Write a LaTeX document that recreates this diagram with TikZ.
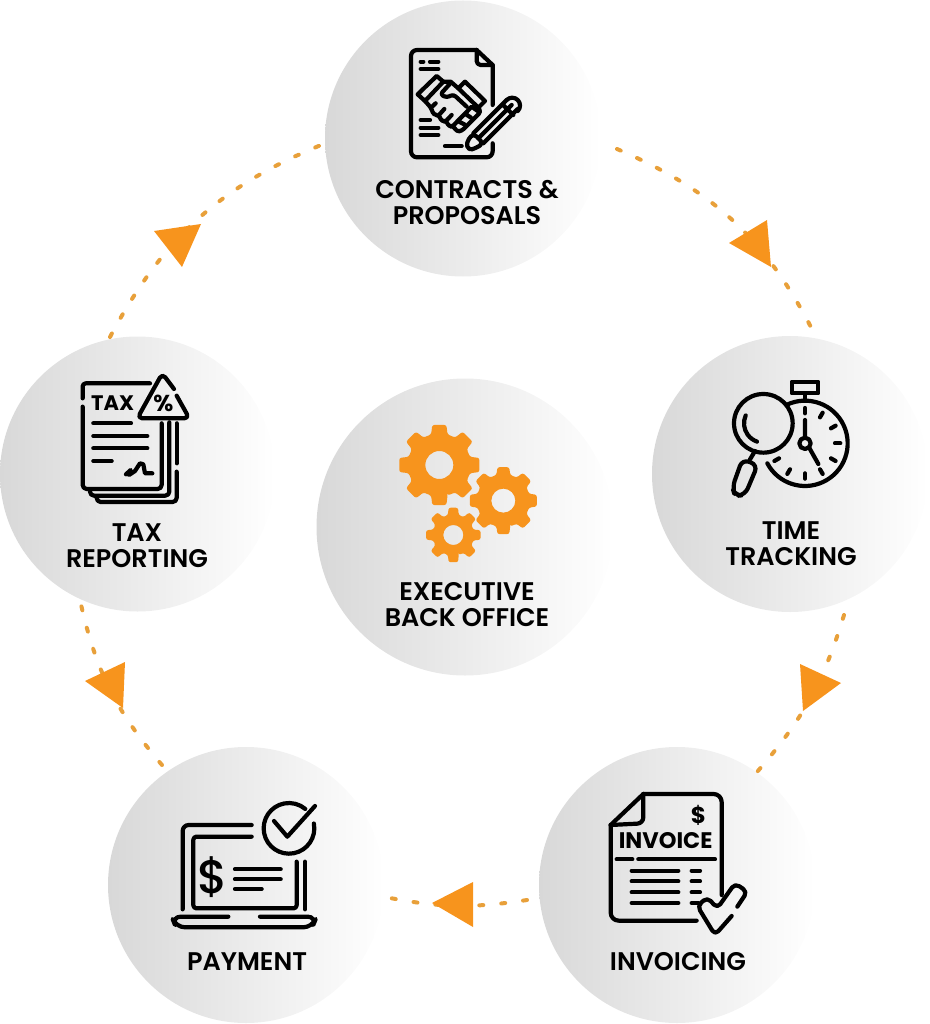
\documentclass[tikz,border=0pt]{standalone}
\usepackage{fontspec}
\setmainfont{Poppins SemiBold}
\newfontfamily\heavyfont{Poppins}[UprightFont=* Bold]
\newfontfamily\midfont{Poppins Medium}
\usetikzlibrary{calc}
\definecolor{brand}{HTML}{F7941D}
\definecolor{dashc}{HTML}{E8A03A}
\definecolor{cgray}{HTML}{D8D8D8}
\tikzset{
  disc/.style={circle,inner sep=0pt,left color=cgray,right color=white,draw=none},
  lab/.style={align=center,inner sep=0pt,font=\fontsize{25.5}{26}\selectfont,text=black},
  flow/.style={draw=dashc,line width=4pt,line cap=round,dash pattern=on 4pt off 18pt},
  head/.style={fill=brand},
  ico/.style={draw=black,line width=4.2pt,line cap=round,line join=round},
  zoomed/.style={x=0.3333pt,y=-0.3333pt},
}
\newcommand{\gearshape}[6]{% cx cy outer root hole start
  \fill[brand,even odd rule,rounded corners=2.2pt]
    ($(#1,#2)+(#6-15:#4)$)
    \foreach \k in {0,...,7}{
      -- ($(#1,#2)+(#6+\k*45-15:#4)$)
      -- ($(#1,#2)+(#6+\k*45-10:#3)$)
      -- ($(#1,#2)+(#6+\k*45+10:#3)$)
      -- ($(#1,#2)+(#6+\k*45+15:#4)$)
    } -- cycle
    (#1,#2) circle[radius=#5];
}
\begin{document}
\begin{tikzpicture}[x=1pt,y=-1pt]
\useasboundingbox (0,0) rectangle (929,1024);
% discs
\node[disc,minimum size=276pt] (contracts) at (463,138.5) {};
\node[disc,minimum size=276pt] (time) at (790,474) {};
\node[disc,minimum size=275pt] (tax) at (137.5,474) {};
\node[disc,minimum size=297pt] (office) at (465,527) {};
\node[disc,minimum size=276pt] (payment) at (246,885) {};
\node[disc,minimum size=276pt] (invoice) at (677,885) {};
% connector ends
\coordinate (a1) at (617,149); \coordinate (a2) at (815,335);
\coordinate (b1) at (844,615); \coordinate (b2) at (757,772);
\coordinate (c1) at (527,900); \coordinate (c2) at (385,897);
\coordinate (d1) at (162,765); \coordinate (d2) at (80,600);
\coordinate (e1) at (110,337); \coordinate (e2) at (326,143);
\draw[flow] (a1) to[bend left=20] (a2);
\draw[flow] (b1) to[bend left=12] (b2);
\draw[flow] (c1) to[bend left=10] (c2);
\draw[flow] (d1) to[bend left=14] (d2);
\draw[flow] (e1) to[bend left=20] (e2);
% arrow heads
\fill[head] (729,243) -- (767,220) -- (771,267) -- cycle;
\fill[head] (800,664) -- (841,683) -- (803,711) -- cycle;
\fill[head] (473,882) -- (473,927) -- (432,903) -- cycle;
\fill[head] (125,662) -- (85,681) -- (123,708) -- cycle;
\fill[head] (154,231) -- (201,224) -- (182,267) -- cycle;
% labels
\node[lab] (l1) at (467,202) {CONTRACTS \&\\PROPOSALS};
\node[lab] (l2) at (791,544) {TIME\\TRACKING};
\node[lab] (l3) at (137,546) {TAX\\REPORTING};
\node[lab] (l4) at (467,605) {EXECUTIVE\\BACK OFFICE};
\node[lab] (l5) at (678,962) {INVOICING};
\node[lab] (l6) at (247,962) {PAYMENT};
% contracts icon
\begin{scope}[shift={(380,30)},zoomed]
 \draw[ico,rounded corners=6pt] (290,60) -- (93,60) -- (93,382) -- (338,382) -- (338,340);
 \draw[ico] (338,225) -- (338,105) -- (290,60);
 \draw[ico,rounded corners=4pt] (290,60) -- (290,105) -- (338,105);
 \draw[ico] (122,95)--(130,95) (150,95)--(175,95) (122,117)--(175,117);
 \draw[ico] (122,270)--(150,270) (122,293)--(175,293) (122,315)--(175,315) (195,348)--(245,348);
\end{scope}
\begin{scope}[shift={(415,65)},zoomed]
 % handshake
 \draw[ico] (8,88)--(65,33)--(85,50)--(30,108)--cycle;
 \draw[ico] (150,50)--(210,108)--(190,128)--(130,70)--cycle;
 \draw[ico] (85,50)--(107,50)--(130,70);
 \draw[ico,rounded corners=3pt] (107,54)--(76,88)--(95,98)--(115,88)--(155,125);
 \draw[ico,rounded corners=3pt] (30,108)--(48,128)--(56,150)--(72,150)--(80,170)--(94,167)--(102,186)--(115,182)--(125,200)--(140,198)--(198,140)--(190,128);
 \draw[ico] (48,128)--(62,115) (72,150)--(88,132) (94,167)--(110,150);
 \draw[ico] (115,182)--(128,168)--(148,178) (128,168)--(150,146)--(168,158) (150,146)--(170,125)--(188,138);
 % pencil
 \draw[ico,rounded corners=4pt] (175,205)--(154,232)--(160,256)--(182,250)--(205,235)--cycle;
 \draw[ico] (175,205)--(275,105) (205,235)--(308,132) (190,220)--(290,120) (262,118)--(295,150);
 \draw[ico] (275,105) arc[start angle=225,end angle=405,radius=23.5];
\end{scope}
% time icon
\begin{scope}[shift={(710,370)},zoomed]
 \draw[ico] (245,35) rectangle (325,70);
 \draw[ico] (285,70) -- (285,90);
 \draw[ico] ([shift={(-115:128)}]285,220) arc[start angle=-115,end angle=152,radius=128];
 \foreach \a in {-90,-60,-30,0,30,60,90,120,150}
   \draw[ico] ([shift={(\a:90)}]285,220) -- ([shift={(\a:106)}]285,220);
 \draw[ico] (285,220) circle[radius=17];
 \draw[ico] (285,203) -- (285,150) (297,232) -- (325,282);
 \draw[ico] (160,160) circle[radius=88];
 \draw[ico] ([shift={(204:58)}]160,160) arc[start angle=204,end angle=109,radius=58];
 \draw[ico] (120,268) -- (135,243);
 \draw[ico,rounded corners=7pt] (97,268) -- (67,352) -- (75,378) -- (105,375) -- (143,285) -- cycle;
\end{scope}
% tax icon
\begin{scope}[shift={(60,365)},zoomed]
 \draw[ico,rounded corners=3pt] (68,100) -- (68,55) -- (270,55);
 \draw[ico,rounded corners=4pt] (68,125) -- (68,372) -- (305,372) -- (305,175);
 \draw[ico,rounded corners=4pt] (90,375) -- (90,392) -- (328,392) -- (328,172);
 \draw[ico,rounded corners=4pt] (110,395) -- (110,411) -- (350,411) -- (350,320);
 \draw[ico] (350,295) -- (350,175);
 \draw[ico] (100,175)--(213,175) (100,213)--(262,213) (100,250)--(262,250) (100,288)--(155,288);
 \draw[ico] (198,328)--(212,315)--(207,330)--(225,318)--(240,295)--(250,298)--(255,325)--(277,325);
 \draw[ico,rounded corners=5pt] (342,72)--(307,25)--(232,160)--(388,160)--(350,92);
 \node[inner sep=0pt,font=\fontsize{21}{21}\selectfont\heavyfont] (taxword) at (158,113) {TAX};
 \node[inner sep=0pt,font=\fontsize{23}{23}\selectfont\heavyfont] (pct) at (310,115) {\%};
\end{scope}
% invoice icon
\begin{scope}[shift={(590,780)},zoomed]
 \draw[ico,rounded corners=8pt] (160,42) -- (395,42) -- (395,345);
 \draw[ico,rounded corners=8pt] (320,422) -- (62,422) -- (62,135);
 \draw[ico] (62,135) -- (160,42);
 \draw[ico,rounded corners=6pt] (160,42) -- (160,130) -- (62,135);
 \node[inner sep=0pt,font=\fontsize{23}{23}\selectfont\heavyfont] (dollar) at (325,105) {\$};
 \node[inner sep=0pt,font=\fontsize{22.5}{23}\selectfont\heavyfont] (invword) at (227,183) {INVOICE};
 \draw[ico] (80,238)--(127,238) (145,238)--(375,238);
 \draw[ico] (125,272)--(265,272) (125,304)--(265,304) (125,337)--(265,337) (125,369)--(265,369);
 \draw[ico] (305,272)--(330,272) (305,304)--(330,304) (305,337)--(330,337) (305,369)--(325,369);
 \draw[ico,rounded corners=5pt] (442,380)--(472,335)--(435,310)--(382,385)--(352,352)--(322,378)--(375,465)--(425,408);
\end{scope}
% payment icon
\begin{scope}[shift={(160,790)},zoomed]
 \draw[ico,rounded corners=6pt] (68,358) -- (68,105) -- (275,105);
 \draw[ico,rounded corners=3pt] (275,140) -- (100,140) -- (100,355) -- (410,355) -- (410,215);
 \draw[ico] (435,215) -- (435,358);
 \draw[ico] ([shift={(-11:76)}]387,115) arc[start angle=-11,end angle=310,radius=76];
 \draw[ico] (342,93)--(382,140)--(465,48);
 \node[inner sep=0pt,font=\fontsize{47}{47}\selectfont\midfont] (bigdollar) at (158,260) {\$};
 \draw[ico] (225,238)--(362,238) (225,268)--(362,268) (225,297)--(305,297);
 \draw[ico,rounded corners=9pt] (205,380) -- (35,380) -- (48,412) -- (457,412) -- (470,380) -- (300,380);
\end{scope}
% gears
\begin{scope}[shift={(385,415)},zoomed]
 \gearshape{163}{150}{122}{95}{42}{90}
 \gearshape{355}{257}{102}{80}{36}{90}
 \gearshape{205}{360}{83}{62}{30}{90}
\end{scope}
\end{tikzpicture}
\end{document}
